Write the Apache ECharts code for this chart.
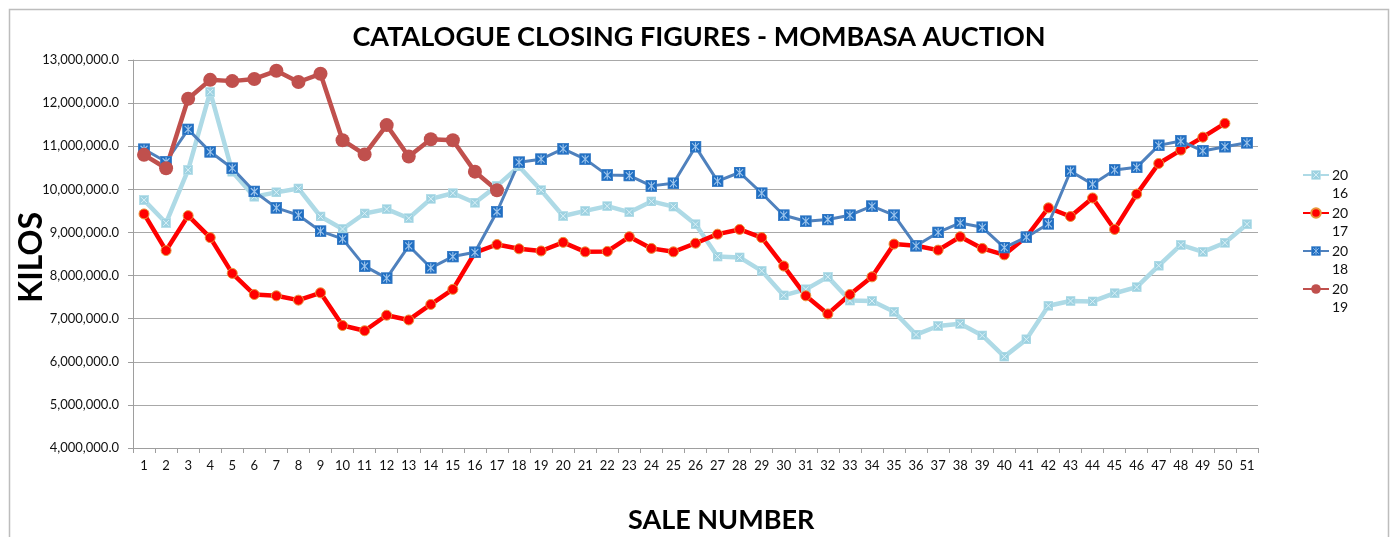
<!DOCTYPE html>
<html>
<head>
<meta charset="utf-8">
<script src="https://cdn.jsdelivr.net/npm/echarts@6/dist/echarts.min.js"></script>
<style>
  html, body { margin: 0; padding: 0; background: #fff; }
  #chart { width: 1392px; height: 537px; }
</style>
</head>
<body>
<div id="chart"></div>
<script>
// sale numbers 1..51
const sales = ['1','2','3','4','5','6','7','8','9','10','11','12','13','14','15','16','17','18','19','20',
  '21','22','23','24','25','26','27','28','29','30','31','32','33','34','35','36','37','38','39','40',
  '41','42','43','44','45','46','47','48','49','50','51'];

// kilos (millions)
const y2016 = [9.75, 9.22, 10.45, 12.26, 10.41, 9.83, 9.93, 10.02, 9.37, 9.08,
  9.44, 9.54, 9.33, 9.78, 9.91, 9.69, 10.08, 10.53, 9.98, 9.38,
  9.50, 9.61, 9.47, 9.72, 9.60, 9.19, 8.44, 8.42, 8.11, 7.54,
  7.68, 7.97, 7.42, 7.41, 7.16, 6.63, 6.83, 6.88, 6.61, 6.12,
  6.52, 7.30, 7.41, 7.40, 7.59, 7.73, 8.23, 8.71, 8.55, 8.76, 9.19];
const y2017 = [9.43, 8.58, 9.39, 8.88, 8.05, 7.56, 7.53, 7.43, 7.60, 6.84,
  6.72, 7.08, 6.97, 7.33, 7.68, 8.53, 8.72, 8.62, 8.57, 8.77,
  8.55, 8.56, 8.90, 8.63, 8.55, 8.75, 8.96, 9.07, 8.88, 8.22,
  7.53, 7.11, 7.56, 7.97, 8.73, 8.69, 8.59, 8.90, 8.63, 8.48,
  8.90, 9.57, 9.37, 9.80, 9.07, 9.89, 10.60, 10.91, 11.21, 11.53];
const y2018 = [10.93, 10.64, 11.39, 10.87, 10.49, 9.95, 9.57, 9.40, 9.03, 8.85,
  8.22, 7.94, 8.69, 8.18, 8.44, 8.54, 9.48, 10.63, 10.70, 10.94,
  10.70, 10.33, 10.32, 10.08, 10.14, 10.99, 10.19, 10.39, 9.91, 9.40,
  9.26, 9.30, 9.40, 9.61, 9.40, 8.69, 9.00, 9.22, 9.12, 8.65,
  8.89, 9.20, 10.42, 10.12, 10.45, 10.51, 11.02, 11.12, 10.89, 10.99, 11.08];
const y2019 = [10.80, 10.49, 12.10, 12.54, 12.51, 12.56, 12.75, 12.49, 12.68, 11.14,
  10.81, 11.49, 10.76, 11.16, 11.14, 10.41, 9.98];

const kilos = arr => arr.map(v => Math.round(v * 1000000));

// square marker with a cross drawn inside it
const boxMark = (fill, edge, cross, star) => {
  const svg = "<svg xmlns='http://www.w3.org/2000/svg' width='12' height='12' viewBox='0 0 12 12'>" +
    "<rect x='0.5' y='0.5' width='11' height='11' fill='" + fill + "' stroke='" + edge + "'/>" +
    "<path d='M2.5 2.5L9.5 9.5M9.5 2.5L2.5 9.5" + (star ? "M6 1.5V10.5" : "") + "' stroke='" + cross + "' stroke-width='1.1'/></svg>";
  return 'image://data:image/svg+xml;charset=utf-8,' + encodeURIComponent(svg);
};

const FONT = 'Lato, "Open Sans", sans-serif';

const chart = echarts.init(document.getElementById('chart'));

const option = {
  animation: false,
  backgroundColor: '#fff',
  textStyle: { fontFamily: FONT },
  title: {
    text: 'CATALOGUE CLOSING FIGURES - MOMBASA AUCTION',
    left: 694, top: 19, textAlign: 'center',
    textStyle: { fontFamily: FONT, fontWeight: 'bold', fontSize: 27, color: '#000' }
  },
  graphic: [
    { type: 'rect', left: 7, top: 7, z: -1,
      shape: { width: 1379, height: 560 },
      style: { fill: 'none', stroke: '#BDBDBD', lineWidth: 1.5 } },
    { type: 'text', left: 16, top: 212, rotation: Math.PI / 2,
      style: { text: 'KILOS', fontFamily: FONT, fontWeight: 'bold', fontSize: 32, fill: '#000' } },
    { type: 'text', left: 628, top: 507,
      style: { text: 'SALE NUMBER', fontFamily: FONT, fontWeight: 'bold', fontSize: 27, fill: '#000' } }
  ],
  legend: {
    orient: 'vertical',
    left: 1297, top: 143,
    itemWidth: 26, itemHeight: 12,
    itemGap: -16,
    data: ['2016', '2017', '2018', '2019'],
    // blank first line so the icon sits beside "20"
    formatter: n => ' \n' + n.slice(0, 2) + '\n' + n.slice(2),
    textStyle: { fontFamily: FONT, fontSize: 14, color: '#111', lineHeight: 18, padding: [0, 0, 0, -2] }
  },
  grid: { left: 133, right: 134, top: 60, bottom: 89 },
  xAxis: {
    type: 'category',
    data: sales,
    boundaryGap: true,
    axisLine: { lineStyle: { color: '#9E9E9E', width: 1 } },
    axisTick: { show: true, length: 5, interval: 0, lineStyle: { color: '#9E9E9E' } },
    axisLabel: { interval: 0, fontSize: 13, color: '#111', margin: 11 },
    splitLine: { show: false }
  },
  yAxis: {
    type: 'value',
    min: 4000000, max: 13000000, interval: 1000000,
    axisLine: { show: true, lineStyle: { color: '#9E9E9E', width: 1 } },
    axisTick: { show: true, length: 5, lineStyle: { color: '#9E9E9E' } },
    axisLabel: {
      fontSize: 13, color: '#111', margin: 14,
      formatter: v => v.toLocaleString('en-US', { minimumFractionDigits: 1, maximumFractionDigits: 1 })
    },
    splitLine: { lineStyle: { color: '#A8A8A8', width: 1.2 } }
  },
  series: [
    {
      name: '2016', type: 'line', data: kilos(y2016),
      symbol: boxMark('#9ED2E1', '#B5DFEA', '#DDF2F8', false), symbolSize: 10,
      lineStyle: { color: '#AEDAE6', width: 4.5 },
      itemStyle: { color: '#AEDAE6' }
    },
    {
      name: '2017', type: 'line', data: kilos(y2017),
      symbol: 'circle', symbolSize: 10,
      lineStyle: { color: '#FF0000', width: 4.5 },
      itemStyle: { color: '#FF0000', borderColor: '#E8963A', borderWidth: 1 }
    },
    {
      name: '2018', type: 'line', data: kilos(y2018),
      symbol: boxMark('#1F6EC2', '#3F80C8', '#9CC4EC', true), symbolSize: 12,
      lineStyle: { color: '#4F81BD', width: 3 },
      itemStyle: { color: '#4F81BD' }
    },
    {
      name: '2019', type: 'line', data: kilos(y2019),
      symbol: 'circle', symbolSize: 14,
      lineStyle: { color: '#C0504D', width: 4.5 },
      itemStyle: { color: '#C0504D' }
    }
  ]
};

option && chart.setOption(option);
</script>
</body>
</html>
